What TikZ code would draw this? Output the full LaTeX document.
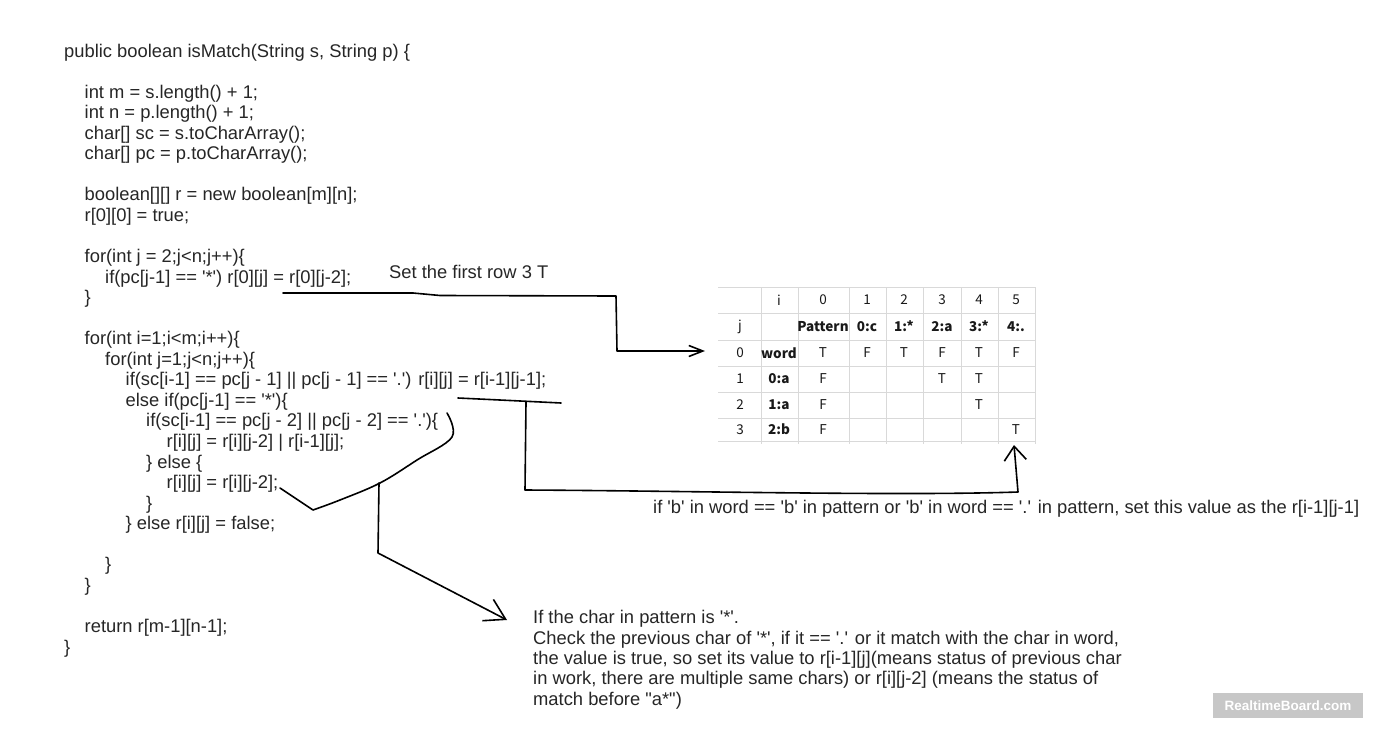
\documentclass[tikz,border=0pt]{standalone}
\usepackage{fontspec}
\usepackage{tikz}
\usetikzlibrary{arrows.meta}
\newfontfamily\codefont{Liberation Sans}
\newfontfamily\tabfont{Noto Sans CJK SC}
\newlength\codestep
\setlength\codestep{20.5pt}
\newcommand\ind[1]{\hspace*{#1\codestep}}

\begin{document}
\begin{tikzpicture}[x=1pt,y=-1pt]
    \tikzstyle{codetext} = [anchor=base west, inner sep=0pt, align=left, text=black!85, font=\codefont\fontsize{18.35}{20.55}\selectfont]
    \tikzstyle{note} = [codetext, font=\codefont\fontsize{18.35}{20.3}\selectfont]
    \tikzstyle{cell} = [inner sep=0pt, text=black!90, font=\tabfont\fontsize{13.5}{15}\selectfont]
    \tikzstyle{gridline} = [draw=black!15, line width=0.8pt]
    \tikzstyle{pen} = [draw=black, line width=1.6pt, line cap=round, line join=round]

    \fill[white] (0,0) rectangle (1373,728);
    \useasboundingbox (0,0) rectangle (1373,728);

    % Source code (base = last line)
    \node[codetext] (src) at (64,653) {public boolean isMatch(String s, String p) \{\\
    \mbox{}\\
    \ind{1}int m = s.length() + 1;\\
    \ind{1}int n = p.length() + 1;\\
    \ind{1}char[] sc = s.toCharArray();\\
    \ind{1}char[] pc = p.toCharArray();\\
    \mbox{}\\
    \ind{1}boolean[][] r = new boolean[m][n];\\
    \ind{1}r[0][0] = true;\\
    \mbox{}\\
    \ind{1}for(int j = 2;j<n;j++)\{\\
    \ind{2}if(pc[j-1] == '*') r[0][j] = r[0][j-2];\\
    \ind{1}\}\\
    \mbox{}\\
    \ind{1}for(int i=1;i<m;i++)\{\\
    \ind{2}for(int j=1;j<n;j++)\{\\
    \ind{3}if(sc[i-1] == pc[j - 1] || pc[j - 1] == '.') r[i][j] = r[i-1][j-1];\\
    \ind{3}else if(pc[j-1] == '*')\{\\
    \ind{4}if(sc[i-1] == pc[j - 2] || pc[j - 2] == '.')\{\\
    \ind{5}r[i][j] = r[i][j-2] | r[i-1][j];\\
    \ind{4}\} else \{\\
    \ind{5}r[i][j] = r[i][j-2];\\
    \ind{4}\}\\
    \ind{3}\} else r[i][j] = false;\\
    \mbox{}\\
    \ind{2}\}\\
    \ind{1}\}\\
    \mbox{}\\
    \ind{1}return r[m-1][n-1];\\
    \}};

    % Notes
    \node[note] (firstrow) at (389,278) {Set the first row 3 T};
    \node[note] (diagnote) at (653,513.5) {if 'b' in word == 'b' in pattern or 'b' in word == '.' in pattern, set this value as the r[i-1][j-1]};
    \node[note] (starnote) at (533,705) {If the char in pattern is '*'.\\
    Check the previous char of '*', if it == '.' or it match with the char in word,\\
    the value is true, so set its value to r[i-1][j](means status of previous char\\
    in work, there are multiple same chars) or r[i][j-2] (means the status of\\
    match before "a*")};

    % Table grid
    \foreach \y in {287,313,340,366,392,418,441}
        \draw[gridline] (718,\y) -- (1035,\y);
    \foreach \x in {761,798,849,886,923,961,998,1035}
        \draw[gridline] (\x,287) -- (\x,444);

    % Table cells
    \def\colx{{740,779,823,867,904,942,979,1016}}
    \def\rowy{{300,326.5,353,379,405,429.5}}
    \foreach \cells [count=\r from 0] in {
        {{},i,0,1,2,3,4,5},
        {j,{},\textbf{Pattern},\textbf{0:c},\textbf{1:*},\textbf{2:a},\textbf{3:*},\textbf{4:.}},
        {0,\textbf{word},T,F,T,F,T,F},
        {1,\textbf{0:a},F,{},{},T,T,{}},
        {2,\textbf{1:a},F,{},{},{},T,{}},
        {3,\textbf{2:b},F,{},{},{},{},T}}{
        \pgfmathsetmacro\ry{\rowy[\r]}
        \foreach \txt [count=\c from 0] in \cells {
            \pgfmathsetmacro\cx{\colx[\c]}
            \node[cell] (t-\r-\c) at (\cx,\ry) {\txt};
        }
    }

    % Arrow to the first row
    \coordinate (rowline) at (283,293);
    \coordinate (rowtip) at (705,351);
    \draw[pen, -{Straight Barb[length=14pt,width=11pt]}] (rowline) -- (413,293) -- (440,295.5) -- (616,296) -- (617,351) -- (rowtip);

    % Arrow to the last T
    \coordinate (diagline) at (458,398);
    \coordinate (diagfoot) at (526,402);
    \coordinate (diagtip) at (1014,445);
    \draw[pen] (diagline) .. controls (500,400) .. (561,403);
    \draw[pen, -{Straight Barb[length=14pt,width=22pt]}] (diagfoot) -- (525,490) .. controls (700,491) and (900,496) .. (1018,492) -- (diagtip);

    % Brace round the star branch
    \draw[pen] plot[smooth, tension=0.6] coordinates {(447,413) (452,437) (417,460) (380,483) (340,500) (313,510)} -- (280,488);
    \coordinate (bracemid) at (379,483);
    \coordinate (startip) at (507,620);
    \draw[pen, -{Straight Barb[length=20pt,width=24pt]}] (bracemid) -- (378,553) -- (startip);

    % Watermark
    \node[fill=black!22, text=white, minimum width=150pt, minimum height=25pt, inner sep=0pt, font=\codefont\bfseries\fontsize{13.5}{13.5}\selectfont] (badge) at (1288,705.5) {RealtimeBoard.com};

\end{tikzpicture}
\end{document}
